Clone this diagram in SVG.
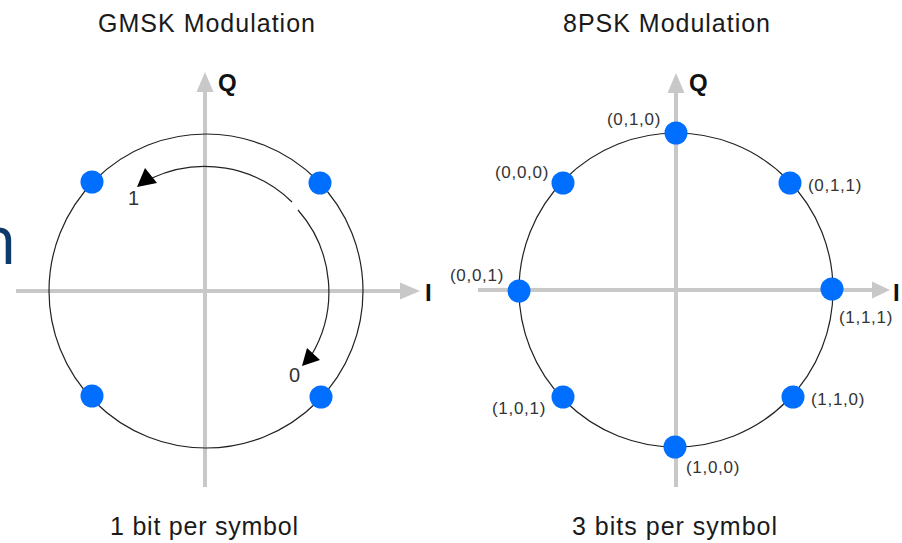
<svg xmlns="http://www.w3.org/2000/svg" width="902" height="543" viewBox="0 0 902 543">
<style>
.ax{stroke:#c8c8c8;stroke-width:4;fill:none}
.axh{fill:#c8c8c8}
.ring{stroke:#222;stroke-width:1.2;fill:none}
.dot{fill:#006eff}
.title{font-family:"Liberation Sans",Arial,sans-serif;font-size:25px;fill:#1a1a1a}
.axl{font-family:"Liberation Sans",Arial,sans-serif;font-size:24px;font-weight:bold;fill:#111}
.lbl{font-family:"Liberation Sans",Arial,sans-serif;font-size:17px;fill:#333;letter-spacing:0.7px}
.bit{font-family:"Liberation Sans",Arial,sans-serif;font-size:20px;fill:#333}
.arc{stroke:#222;stroke-width:1.2;fill:none}
.head{fill:#000}
</style>
<rect width="902" height="543" fill="#fff"/>
<text x="-25" y="264" font-family="'Open Sans',sans-serif" font-size="68" fill="#0b3a6b">n</text>

<g id="gmsk">
  <text class="title" x="98" y="32" textLength="217" lengthAdjust="spacing">GMSK Modulation</text>
  <g id="gmsk-axes">
    <line class="ax" x1="205" y1="90" x2="205" y2="487"/>
    <polygon class="axh" points="205,72 196.5,92 213.5,92"/>
    <line class="ax" x1="16" y1="291" x2="402" y2="291"/>
    <polygon class="axh" points="420,291 400,282.5 400,299.5"/>
    <text class="axl" x="218" y="91">Q</text>
    <text class="axl" x="425" y="301">I</text>
  </g>
  <circle class="ring" cx="206" cy="291" r="157"/>
  <g id="gmsk-p1"><circle class="dot" cx="92" cy="182" r="11.5"/></g>
  <g id="gmsk-p2"><circle class="dot" cx="320" cy="183" r="11.5"/></g>
  <g id="gmsk-p3"><circle class="dot" cx="92" cy="396" r="11.5"/></g>
  <g id="gmsk-p4"><circle class="dot" cx="321" cy="397" r="11.5"/></g>
  <g id="connectors">
    <path class="arc" d="M292,202 A125,125 0 0 0 152,178"/>
    <polygon class="head" points="137,187 145,168 157,183"/>
    <path class="arc" d="M298,210 A124,124 0 0 1 311,356"/>
    <polygon class="head" points="302,366 307,348 320,360"/>
  </g>
  <text class="bit" x="128" y="205">1</text>
  <text class="bit" x="289" y="382">0</text>
  <text class="title" x="110" y="535" textLength="188" lengthAdjust="spacing">1 bit per symbol</text>
</g>

<g id="psk8">
  <text class="title" x="563" y="32" textLength="207" lengthAdjust="spacing">8PSK Modulation</text>
  <g id="psk-axes">
    <line class="ax" x1="676" y1="91" x2="676" y2="487"/>
    <polygon class="axh" points="676,73 667.5,93 684.5,93"/>
    <line class="ax" x1="478" y1="290" x2="874" y2="290"/>
    <polygon class="axh" points="890,290 872,281.5 872,298.5"/>
    <text class="axl" x="689" y="91">Q</text>
    <text class="axl" x="893" y="301">I</text>
  </g>
  <circle class="ring" cx="676" cy="290" r="157"/>
  <g id="psk-010"><circle class="dot" cx="676" cy="133" r="11.5"/><text class="lbl" x="607" y="125">(0,1,0)</text></g>
  <g id="psk-000"><circle class="dot" cx="563" cy="183" r="11.5"/><text class="lbl" x="495" y="178">(0,0,0)</text></g>
  <g id="psk-011"><circle class="dot" cx="790" cy="183" r="11.5"/><text class="lbl" x="808" y="191">(0,1,1)</text></g>
  <g id="psk-001"><circle class="dot" cx="519" cy="291" r="11.5"/><text class="lbl" x="450" y="281">(0,0,1)</text></g>
  <g id="psk-111"><circle class="dot" cx="832" cy="289" r="11.5"/><text class="lbl" x="839" y="323">(1,1,1)</text></g>
  <g id="psk-101"><circle class="dot" cx="563" cy="397" r="11.5"/><text class="lbl" x="492" y="414">(1,0,1)</text></g>
  <g id="psk-110"><circle class="dot" cx="793" cy="397" r="11.5"/><text class="lbl" x="811" y="405">(1,1,0)</text></g>
  <g id="psk-100"><circle class="dot" cx="675" cy="447" r="11.5"/><text class="lbl" x="686" y="473">(1,0,0)</text></g>
  <text class="title" x="572" y="535" textLength="205" lengthAdjust="spacing">3 bits per symbol</text>
</g>
</svg>
